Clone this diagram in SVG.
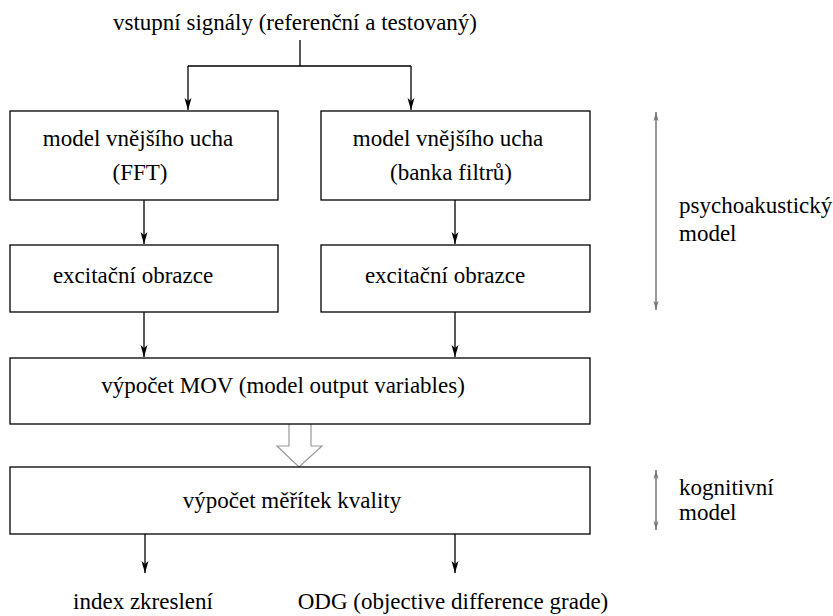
<svg xmlns="http://www.w3.org/2000/svg" width="833" height="616" viewBox="0 0 833 616">
<defs>
<marker id="ah" markerWidth="12" markerHeight="8" refX="12" refY="4" orient="auto" markerUnits="userSpaceOnUse"><path d="M0,0.5 L12,4 L0,7.5 L3,4 Z" fill="#000"/></marker>
<marker id="gh" markerWidth="9" markerHeight="6" refX="9" refY="3" orient="auto-start-reverse" markerUnits="userSpaceOnUse"><path d="M0,0.5 L9,3 L0,5.5 L2,3 Z" fill="#777"/></marker>
<style>
.box{fill:#fff;stroke:#000;stroke-width:1.3}
.c{fill:none;stroke:#000;stroke-width:1.3}
.g{fill:none;stroke:#777;stroke-width:1.5}
</style>
</defs>
<rect width="833" height="616" fill="#fff"/>
<g font-family="Liberation Serif, DejaVu Serif, serif" font-size="23" fill="#000">
<text text-anchor="middle" x="295" y="30">vstupní signály (referenční a testovaný)</text>
<g id="connectors">
<path class="c" d="M300,40 V66 M188,66 H411"/>
<path class="c" d="M188,66 V110" marker-end="url(#ah)"/>
<path class="c" d="M411,66 V110" marker-end="url(#ah)"/>
<path class="c" d="M144,200 V244" marker-end="url(#ah)"/>
<path class="c" d="M455,200 V244" marker-end="url(#ah)"/>
<path class="c" d="M144,312 V357" marker-end="url(#ah)"/>
<path class="c" d="M455,312 V357" marker-end="url(#ah)"/>
<path d="M289,424 V446 H277 L299,467 L322,446 H311 V424" fill="#fff" stroke="#999" stroke-width="1.2"/>
<path class="c" d="M145,534 V573" marker-end="url(#ah)"/>
<path class="c" d="M455,534 V573" marker-end="url(#ah)"/>
<path class="g" d="M656,112 V310" marker-start="url(#gh)" marker-end="url(#gh)"/>
<path class="g" d="M656,470 V530" marker-start="url(#gh)" marker-end="url(#gh)"/>
</g>
<g id="ear-fft" text-anchor="middle"><rect class="box" x="10" y="111" width="268" height="89"/><text x="138" y="146">model vnějšího ucha</text><text x="140" y="180">(FFT)</text></g>
<g id="ear-filter" text-anchor="middle"><rect class="box" x="321" y="111" width="269" height="89"/><text x="448" y="146">model vnějšího ucha</text><text x="451" y="180">(banka filtrů)</text></g>
<g id="exc-left" text-anchor="middle"><rect class="box" x="10" y="245" width="268" height="67"/><text x="133" y="283">excitační obrazce</text></g>
<g id="exc-right" text-anchor="middle"><rect class="box" x="321" y="245" width="269" height="67"/><text x="445" y="283">excitační obrazce</text></g>
<g id="mov" text-anchor="middle"><rect class="box" x="10" y="358" width="580" height="66"/><text x="283" y="393">výpočet MOV (model output variables)</text></g>
<g id="quality" text-anchor="middle"><rect class="box" x="10" y="467" width="580" height="67"/><text x="292" y="508">výpočet měřítek kvality</text></g>
<g id="outputs" text-anchor="middle"><text x="143" y="609">index zkreslení</text><text x="453" y="609">ODG (objective difference grade)</text></g>
<g id="labels"><text x="679" y="213">psychoakustický</text><text x="679" y="241">model</text><text x="679" y="495">kognitivní</text><text x="679" y="520">model</text></g>
</g>
</svg>
